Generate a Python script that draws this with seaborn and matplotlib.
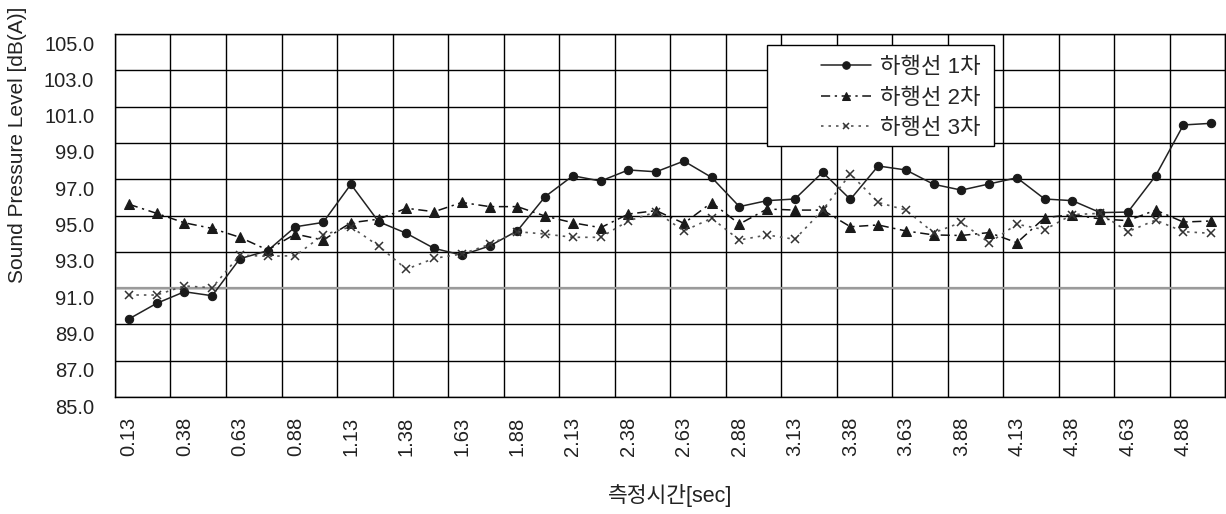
import numpy as np
import pandas as pd
import matplotlib
matplotlib.use("Agg")
import matplotlib.pyplot as plt
from matplotlib.patches import Rectangle
from matplotlib.transforms import ScaledTranslation
import seaborn as sns

# measurement time labels [sec]
times = ["0.13", "0.25", "0.38", "0.50", "0.63", "0.75", "0.88", "1.00",
         "1.13", "1.25", "1.38", "1.50", "1.63", "1.75", "1.88", "2.00",
         "2.13", "2.25", "2.38", "2.50", "2.63", "2.75", "2.88", "3.00",
         "3.13", "3.25", "3.38", "3.50", "3.63", "3.75", "3.88", "4.00",
         "4.13", "4.25", "4.38", "4.50", "4.63", "4.75", "4.88", "5.00"]

run1 = [89.30, 90.16, 90.80, 90.58, 92.62, 93.06, 94.38, 94.62, 96.72, 94.66,
        94.02, 93.19, 92.82, 93.32, 94.16, 96.04, 97.19, 96.90, 97.51, 97.41,
        98.00, 97.10, 95.49, 95.82, 95.91, 97.38, 95.89, 97.73, 97.51, 96.72,
        96.40, 96.74, 97.08, 95.91, 95.82, 95.16, 95.19, 97.19, 99.99, 100.08]

run2 = [95.62, 95.12, 94.60, 94.29, 93.80, 93.10, 93.98, 93.65, 94.60, 94.80,
        95.40, 95.21, 95.72, 95.49, 95.49, 94.97, 94.60, 94.33, 95.08, 95.27,
        94.57, 95.71, 94.53, 95.36, 95.30, 95.30, 94.38, 94.48, 94.15, 93.93,
        93.90, 94.06, 93.50, 94.88, 95.05, 94.81, 94.72, 95.30, 94.64, 94.70]

run3 = [90.62, 90.62, 91.12, 91.02, 92.82, 92.75, 92.79, 93.93, 94.38, 93.32,
        92.04, 92.64, 92.88, 93.41, 94.11, 93.98, 93.80, 93.80, 94.70, 95.20,
        94.15, 94.85, 93.65, 93.93, 93.69, 95.30, 97.29, 95.72, 95.30, 94.05,
        94.62, 93.50, 94.52, 94.22, 95.05, 95.12, 94.11, 94.75, 94.11, 94.02]

names = ["하행선 1차", "하행선 2차", "하행선 3차"]
yticks = [85, 87, 89, 91, 93, 95, 97, 99, 101, 103, 105]

sns.set_theme(style="white")
plt.rcParams['font.family'] = ['Liberation Sans', 'Noto Sans CJK KR', 'DejaVu Sans']

df = pd.DataFrame({"time": times, names[0]: run1, names[1]: run2, names[2]: run3})

fig = plt.figure(figsize=(12.26, 5.14), dpi=100)
ax = fig.add_axes([0.0938, 0.2276, 0.9054, 0.7062])

sns.lineplot(data=df, x="time", y=names[0], ax=ax, sort=False, color="#222222",
             lw=1.1, marker="o", markersize=6, markerfacecolor="k",
             markeredgecolor="k", label=names[0], zorder=3)
sns.lineplot(data=df, x="time", y=names[1], ax=ax, sort=False, color="#111111",
             lw=1.1, dashes=(6, 3, 1.5, 3), marker="^", markersize=6.5,
             markerfacecolor="k", markeredgecolor="k", label=names[1], zorder=3)
sns.lineplot(data=df, x="time", y=names[2], ax=ax, sort=False, color="#555555",
             lw=1.2, dashes=(1.5, 3), marker="x", markersize=5.5, markeredgewidth=1.1,
             markeredgecolor="#333333", label=names[2], zorder=3)

ax.set_xlim(-0.5, len(times) - 0.5)
ax.set_ylim(85, 105)
ax.set_yticks(yticks)
ax.set_yticklabels([f"{v:.1f}" for v in yticks])
ax.set_xticks(range(0, len(times), 2))
ax.set_xticklabels(times[0::2], rotation=90)
ax.set_xticks(np.arange(-0.5, len(times), 2), minor=True)

ax.grid(False)
ax.grid(axis="y", which="major", color="black", lw=1.0, zorder=1)
ax.grid(axis="x", which="minor", color="black", lw=1.0, zorder=1)
ax.axhline(91, color="#9a9a9a", lw=1.6, zorder=1.5)
ax.set_axisbelow(True)

for s in ax.spines.values():
    s.set_color("black")
    s.set_linewidth(1.0)

ax.tick_params(axis="both", which="both", length=0, labelsize=14.5, colors="#222222")
ax.tick_params(axis="y", pad=15)
ax.tick_params(axis="x", pad=14)

# y tick labels sit a little below their grid lines, as in the original
off = ScaledTranslation(0, -9 / 100, fig.dpi_scale_trans)
for t in ax.yaxis.get_major_ticks():
    t.label1.set_transform(t.label1.get_transform() + off)

ax.set_xlabel("측정시간[sec]", fontsize=15.5, color="#222222", labelpad=20)
ax.set_ylabel("Sound Pressure Level [dB(A)]", fontsize=15, color="#222222")
ax.yaxis.set_label_coords(-0.079, 0.694)

# legend box
box = Rectangle((0.587, 0.691), 0.205, 0.279, transform=ax.transAxes,
                facecolor="white", edgecolor="black", lw=1.0, zorder=4)
ax.add_patch(box)
leg = ax.legend(loc="upper left", bbox_to_anchor=(0.636, 0.936), frameon=False,
                fontsize=16, handlelength=2.25, handletextpad=0.4,
                labelspacing=0.42, borderpad=0, borderaxespad=0, markerscale=0.9)
leg.set_zorder(5)

fig.savefig("out.png", dpi=100)
